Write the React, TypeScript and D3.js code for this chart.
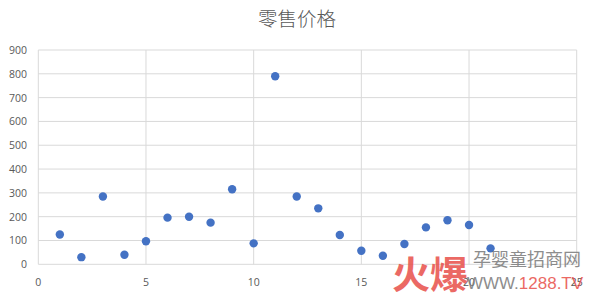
import React from "react";
import * as d3 from "d3";

const title = "零售价格";
const xValues = [1, 2, 3, 4, 5, 6, 7, 8, 9, 10, 11, 12, 13, 14, 15, 16, 17, 18, 19, 20, 21];
const yValues = [125, 30, 285, 40, 97, 196, 200, 175, 315, 88, 790, 285, 235, 123, 57, 36, 85, 155, 185, 165, 67];
const xTicks = [0, 5, 10, 15, 20, 25];
const yTicks = [0, 100, 200, 300, 400, 500, 600, 700, 800, 900];

const W = 600;
const H = 296;
const margin = { left: 38.3, right: 23.3, top: 50, bottom: 31.7 };

export default function App() {
  const x = d3.scaleLinear().domain([0, 25]).range([margin.left, W - margin.right]);
  const y = d3.scaleLinear().domain([0, 900]).range([H - margin.bottom, margin.top]);
  const grid = "#d9d9d9";
  const textColor = "#595959";
  const font = "'Open Sans', 'Noto Sans', sans-serif";

  return (
    <svg
      width={W}
      height={H}
      style={{ position: "fixed", left: 0, top: 0, background: "#fff" }}
    >
      <rect x={0} y={0} width={W} height={H} fill="#fff" />
      <text
        x={297}
        y={26}
        textAnchor="middle"
        fontFamily="'Noto Sans CJK SC', sans-serif"
        fontWeight={300}
        fontSize={19.5}
        fill={textColor}
      >
        {title}
      </text>

      {/* horizontal gridlines */}
      {yTicks.map((t) => (
        <line
          key={"h" + t}
          x1={x(0)}
          x2={x(25)}
          y1={y(t)}
          y2={y(t)}
          stroke={grid}
          strokeWidth={1}
        />
      ))}
      {/* vertical gridlines */}
      {xTicks.map((t) => (
        <line
          key={"v" + t}
          x1={x(t)}
          x2={x(t)}
          y1={y(0)}
          y2={y(900)}
          stroke={grid}
          strokeWidth={1}
        />
      ))}

      {/* y tick labels */}
      {yTicks.map((t) => (
        <text
          key={"yl" + t}
          x={27}
          y={y(t) + 4}
          textAnchor="end"
          fontFamily={font}
          fontSize={10.5}
          fill={textColor}
        >
          {t}
        </text>
      ))}
      {/* x tick labels */}
      {xTicks.map((t) => (
        <text
          key={"xl" + t}
          x={x(t)}
          y={286}
          textAnchor="middle"
          fontFamily={font}
          fontSize={10.5}
          fill={textColor}
        >
          {t}
        </text>
      ))}

      {/* data points */}
      {xValues.map((xv, i) => (
        <circle key={"p" + i} cx={x(xv)} cy={y(yValues[i])} r={4.2} fill="#4472c4" />
      ))}

      {/* site mark */}
      <g opacity={0.85}>
        <text
          x={430}
          y={288}
          textAnchor="middle"
          fontFamily="'Noto Sans CJK SC', sans-serif"
          fontWeight={700}
          fontSize={38}
          fill="#e8504a"
        >
          火爆
        </text>
        <text
          x={527}
          y={266}
          textAnchor="middle"
          fontFamily="'Noto Sans CJK SC', sans-serif"
          fontSize={18}
          fill="#7a7a7a"
        >
          孕婴童招商网
        </text>
        <text
          x={525}
          y={289}
          textAnchor="middle"
          fontFamily="'Liberation Sans', sans-serif"
          fontSize={17}
          fill="#7a7a7a"
        >
          WWW.<tspan fill="#e8504a">1288.TV</tspan>
        </text>
      </g>
    </svg>
  );
}
